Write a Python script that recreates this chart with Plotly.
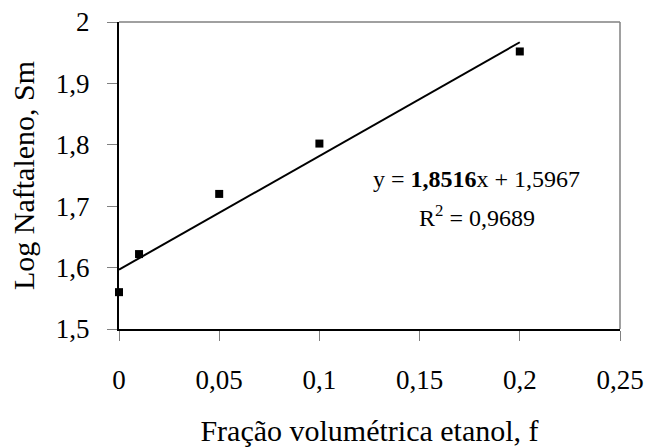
import plotly.graph_objects as go

# Data
fracao = [0.0, 0.01, 0.05, 0.10, 0.20]
log_naftaleno = [1.560, 1.622, 1.720, 1.802, 1.952]
slope = 1.8516
intercept = 1.5967
r2 = 0.9689
trend_x = [0.0, 0.20]
x_ticks = [0, 0.05, 0.10, 0.15, 0.20, 0.25]
x_ticklabels = ["0", "0,05", "0,1", "0,15", "0,2", "0,25"]
y_ticks = [1.5, 1.6, 1.7, 1.8, 1.9, 2.0]
y_ticklabels = ["1,5", "1,6", "1,7", "1,8", "1,9", "2"]

trend_y = [slope * x + intercept for x in trend_x]

FONT = "Liberation Serif, Times New Roman, serif"

fig = go.Figure()
fig.add_trace(go.Scatter(x=trend_x, y=trend_y, mode="lines",
                         line=dict(color="black", width=2), showlegend=False,
                         hoverinfo="skip"))
fig.add_trace(go.Scatter(x=fracao, y=log_naftaleno, mode="markers",
                         marker=dict(symbol="square", size=8, color="black"),
                         showlegend=False, cliponaxis=False))

fig.update_layout(
    width=647, height=447,
    margin=dict(l=119, r=27, t=22, b=118),
    paper_bgcolor="white", plot_bgcolor="white",
    font=dict(family=FONT, color="black", size=27),
    xaxis=dict(range=[0, 0.25], tickvals=x_ticks, ticktext=x_ticklabels,
               automargin=False,
               showgrid=False, zeroline=False, showline=True, linecolor="black",
               linewidth=2, ticks="outside", ticklen=10, tickcolor="#808080",
               tickwidth=1, ticklabelstandoff=16, tickfont=dict(size=27),
               title=dict(text="Fração volumétrica etanol, f", font=dict(size=30),
                          standoff=27)),
    yaxis=dict(range=[1.5, 2.0], tickvals=y_ticks, ticktext=y_ticklabels,
               automargin=False,
               showgrid=False, zeroline=False, showline=True, linecolor="black",
               linewidth=2, ticks="outside", ticklen=10, tickcolor="#808080",
               tickwidth=1, ticklabelstandoff=12, tickfont=dict(size=27),
               title=dict(text="Log Naftaleno, Sm", font=dict(size=30),
                          standoff=12)),
    shapes=[
        dict(type="line", xref="paper", yref="paper", x0=0, x1=1, y0=1, y1=1,
             line=dict(color="#808080", width=1.5)),
        dict(type="line", xref="paper", yref="paper", x0=1, x1=1, y0=0, y1=1,
             line=dict(color="#808080", width=1.5)),
    ],
    annotations=[
        dict(x=0.1786, y=1.744, xref="x", yref="y", showarrow=False,
             text=f"y = <b>{str(slope).replace('.', ',')}</b>x + {str(intercept).replace('.', ',')}",
             font=dict(size=24, family=FONT)),
        dict(x=0.1786, y=1.684, xref="x", yref="y", showarrow=False,
             text=f"R<sup>2</sup> = {str(r2).replace('.', ',')}",
             font=dict(size=24, family=FONT)),
    ],
)

fig.write_html("out.html", config={"displayModeBar": False},
               post_script="document.body.style.margin='0';document.body.style.overflow='hidden';")
